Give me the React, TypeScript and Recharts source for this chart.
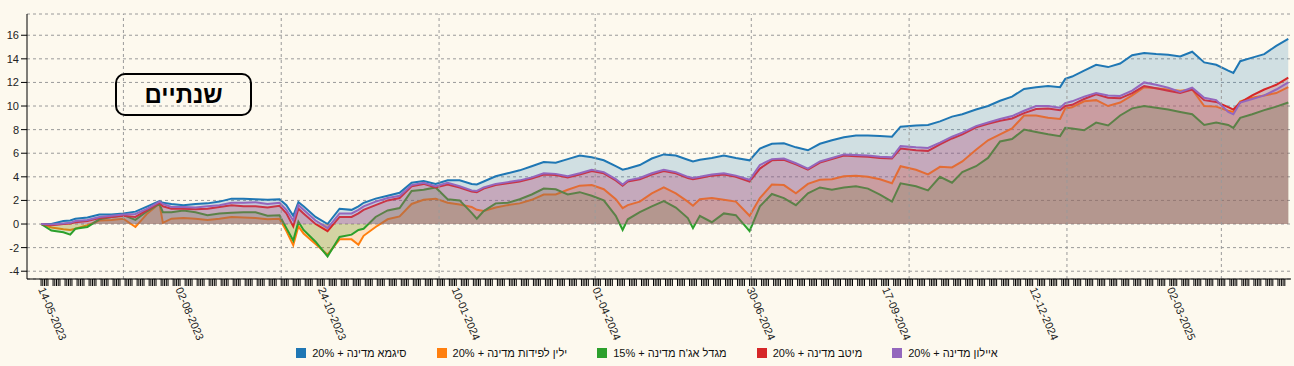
import React from "react";
import { AreaChart, Area, XAxis, YAxis, CartesianGrid, ReferenceLine } from "recharts";

// two-year cumulative returns (%), sampled from 14-05-2023 onward
const START = "14-05-2023";

// days since START for each sample
const dayOffsets = [
  0, 6, 13, 17, 20, 27, 34, 41, 48, 55, 62, 69, 71, 76, 83, 90, 97, 104, 111, 118,
  125, 132, 139, 143, 147, 150, 153, 160, 167, 174, 181, 185, 188, 195, 202, 209, 216, 223, 230, 237,
  244, 251, 254, 258, 265, 272, 279, 286, 293, 300, 307, 314, 321, 328, 335, 339, 342, 349, 356, 363,
  370, 377, 380, 384, 391, 398, 405, 413, 419, 426, 433, 440, 447, 454, 461, 468, 475, 482, 489, 496,
  501, 510, 517, 524, 531, 537, 545, 552, 559, 566, 573, 580, 587, 594, 597, 601, 608, 615, 622, 629,
  636, 643, 650, 657, 664, 671, 678, 685, 692, 695, 699, 706, 713, 720, 727,
];

const sigma = [
  0, 0, 0.25, 0.3, 0.45, 0.55, 0.8, 0.8, 0.9, 1.05, 1.5, 1.95, 1.8, 1.7, 1.6, 1.7, 1.75, 1.9, 2.15, 2.15,
  2.1, 2.05, 2.1, 1.6, 0.7, 1.85, 1.5, 0.6, 0, 1.3, 1.2, 1.5, 1.8, 2.15, 2.4, 2.65, 3.5, 3.65, 3.4, 3.7,
  3.7, 3.4, 3.35, 3.6, 4.05, 4.3, 4.55, 4.9, 5.25, 5.2, 5.5, 5.8, 5.65, 5.4, 4.9, 4.6, 4.7, 5.0, 5.55, 5.9,
  5.8, 5.45, 5.3, 5.45, 5.6, 5.8, 5.6, 5.4, 6.4, 6.8, 6.85, 6.5, 6.25, 6.8, 7.1, 7.35, 7.5, 7.5, 7.45, 7.4,
  8.25, 8.35, 8.4, 8.7, 9.1, 9.3, 9.7, 10.0, 10.45, 10.8, 11.45, 11.6, 11.7, 11.6, 12.3, 12.5, 13.0, 13.5, 13.3, 13.6,
  14.3, 14.5, 14.4, 14.35, 14.2, 14.6, 13.7, 13.5, 13.0, 12.8, 13.8, 14.1, 14.4, 15.1, 15.7,
];

const yelin = [
  0, -0.3, -0.45, -0.5, -0.4, -0.1, 0.3, 0.35, 0.45, -0.25, 0.9, 1.75, 0.1, 0.45, 0.5, 0.45, 0.35, 0.45, 0.6, 0.55,
  0.5, 0.4, 0.45, -0.6, -1.8, -0.2, -0.8, -1.7, -2.6, -1.3, -1.3, -1.75, -1.0, -0.25, 0.4, 0.65, 1.7, 2.05, 2.15, 1.8,
  1.65, 1.45, 1.2, 1.1, 1.4, 1.6, 1.75, 2.05, 2.5, 2.5, 2.9, 3.25, 3.3, 2.95, 2.1, 1.35, 1.6, 1.9, 2.6, 3.1,
  2.6, 1.9, 1.55, 2.1, 2.2, 2.05, 1.9, 0.7, 2.2, 3.35, 3.3, 2.6, 3.4, 3.75, 3.8, 4.05, 4.1, 4.0, 3.8, 3.45,
  4.9, 4.6, 4.2, 4.85, 4.8, 5.3, 6.3, 7.1, 7.6, 8.1, 9.2, 9.2, 9.0, 8.9, 9.8, 9.9, 10.4, 10.5, 10.0, 10.3,
  10.9, 11.6, 11.5, 11.4, 11.3, 11.4, 10.0, 9.95, 9.6, 9.5, 10.4, 10.7, 10.9, 11.1, 11.6,
];

const migdal = [
  0, -0.55, -0.7, -0.9, -0.4, -0.25, 0.4, 0.6, 0.75, 0.35, 1.1, 1.7, 1.0, 1.0, 1.15, 1.0, 0.75, 0.9, 0.95, 1.0,
  1.0, 0.7, 0.75, -0.35, -1.4, 0.2, -0.5, -1.5, -2.75, -1.1, -0.9, -0.5, -0.4, 0.6, 1.15, 1.35, 2.8, 2.9, 3.1, 2.1,
  2.0, 0.95, 0.45, 1.1, 1.75, 1.8, 2.1, 2.5, 3.0, 2.95, 2.5, 2.7, 2.4, 2.0, 0.7, -0.5, 0.4, 1.0, 1.5, 1.95,
  1.4, 0.5, -0.35, 0.7, 0.15, 0.9, 0.75, -0.6, 1.5, 2.55, 2.2, 1.6, 2.6, 3.1, 2.9, 3.1, 3.2, 3.0, 2.5, 1.9,
  3.45, 3.2, 2.85, 4.0, 3.5, 4.4, 4.9, 5.6, 7.0, 7.2, 8.0, 7.8, 7.6, 7.45, 8.15, 8.1, 7.95, 8.6, 8.35, 9.2,
  9.8, 10.0, 9.85, 9.7, 9.5, 9.3, 8.4, 8.6, 8.4, 8.15, 9.0, 9.3, 9.65, 9.95, 10.3,
];

const meitav = [
  0, -0.1, 0, 0.05, 0.15, 0.25, 0.5, 0.6, 0.7, 0.6, 1.2, 1.8, 1.5, 1.3, 1.3, 1.25, 1.3, 1.45, 1.6, 1.5,
  1.5, 1.4, 1.55, 0.9, -0.2, 1.3, 0.9, 0, -0.6, 0.6, 0.6, 0.9, 1.2, 1.6, 2.0, 2.2, 3.2, 3.4, 3.1, 3.35,
  3.1, 2.75, 2.7, 3.0, 3.3, 3.45, 3.6, 3.85, 4.2, 4.15, 3.95, 4.2, 4.5, 4.3, 3.7, 3.25, 3.6, 3.8, 4.2, 4.5,
  4.3, 3.9, 3.8, 3.9, 4.1, 4.2, 4.0, 3.6, 4.7, 5.4, 5.45, 5.05, 4.6, 5.2, 5.5, 5.8, 5.75, 5.7, 5.6, 5.55,
  6.4, 6.25, 6.2, 6.75, 7.25, 7.6, 8.2, 8.5, 8.75, 8.95, 9.4, 9.75, 9.8, 9.65, 10.0, 10.1, 10.6, 11.0, 10.7, 10.65,
  11.1, 11.7, 11.5, 11.3, 11.1, 11.4, 10.5, 10.35, 9.9, 9.7, 10.3, 10.9, 11.4, 11.8, 12.4,
];

const ayalon = [
  0, -0.05, 0.05, 0.1, 0.25, 0.35, 0.6, 0.7, 0.8, 0.85, 1.3, 1.9, 1.7, 1.45, 1.45, 1.4, 1.5, 1.6, 1.8, 1.8,
  1.85, 1.7, 1.8, 1.2, 0.3, 1.6, 1.2, 0.3, -0.35, 0.9, 0.9, 1.2, 1.5, 1.9, 2.2, 2.4, 3.3, 3.5, 3.2, 3.5,
  3.2, 2.85, 2.8, 3.1, 3.4, 3.55, 3.7, 3.95, 4.3, 4.25, 4.05, 4.3, 4.6, 4.4, 3.8, 3.35, 3.7, 3.9, 4.3, 4.6,
  4.4, 4.0, 3.9, 4.0, 4.2, 4.3, 4.1, 3.75, 5.0, 5.5, 5.55, 5.15, 4.7, 5.3, 5.6, 5.9, 5.85, 5.8, 5.7, 5.65,
  6.6, 6.5, 6.45, 6.9, 7.4, 7.75, 8.3, 8.6, 8.9, 9.15, 9.6, 10.0, 10.0, 9.85, 10.25, 10.4, 10.8, 11.1, 10.9, 10.85,
  11.3, 12.0, 11.8, 11.55, 11.2, 11.55, 10.7, 10.5, 9.5, 9.3, 10.3, 10.6, 10.9, 11.4, 12.0,
];

const seriesNames = [
  "סיגמא מדינה + 20%",
  "ילין לפידות מדינה + 20%",
  "מגדל אג'ח מדינה + 15%",
  "מיטב מדינה + 20%",
  "איילון מדינה + 20%",
];

const tickLabels = [
  "14-05-2023", "02-08-2023", "24-10-2023", "10-01-2024", "01-04-2024",
  "30-06-2024", "17-09-2024", "12-12-2024", "02-03-2025",
];

const quarterStarts = [
  "01-07-2023", "01-10-2023", "01-01-2024", "01-04-2024",
  "01-07-2024", "01-10-2024", "01-01-2025", "01-04-2025",
];

const yTicks = [-4, -2, 0, 2, 4, 6, 8, 10, 12, 14, 16];

const title = "שנתיים";

const colors = ["#1f77b4", "#ff7f0e", "#2ca02c", "#d62728", "#9467bd"];
const keys = ["sigma", "yelin", "migdal", "meitav", "ayalon"];

const toUTC = (s: string) => {
  const [d, m, y] = s.split("-").map(Number);
  return Date.UTC(y, m - 1, d);
};
const dayOf = (s: string) => Math.round((toUTC(s) - toUTC(START)) / 86400000);

const data = dayOffsets.map((day, i) => ({
  day,
  sigma: sigma[i],
  yelin: yelin[i],
  migdal: migdal[i],
  meitav: meitav[i],
  ayalon: ayalon[i],
}));

// one tick per trading day (Sun-Thu)
const lastDay = dayOffsets[dayOffsets.length - 1];
const tradingDays: number[] = [];
for (let d = 0; d <= lastDay; d++) if (d % 7 <= 4) tradingDays.push(d);

const labelByDay = new Map(tickLabels.map((t) => [dayOf(t), t]));

function DateTick(props: any) {
  const { x, y, payload } = props;
  const label = labelByDay.get(payload.value);
  if (!label) return <g />;
  return (
    <g transform={`translate(${x},${y})`}>
      <text transform="rotate(67)" x={0} y={0} dy="0.3em" fontSize={11} fill="#222" textAnchor="start">
        {label}
      </text>
    </g>
  );
}

function Legend() {
  return (
    <div
      style={{
        position: "absolute",
        top: 347,
        left: 0,
        width: 1294,
        display: "flex",
        justifyContent: "center",
        gap: 30,
        fontSize: 11,
        color: "#111",
      }}
    >
      {seriesNames.map((name, i) => (
        <div key={name} style={{ display: "flex", alignItems: "center" }}>
          <span style={{ width: 10, height: 10, background: colors[i], marginRight: 6, display: "inline-block" }} />
          <span>{name}</span>
        </div>
      ))}
    </div>
  );
}

export default function App() {
  return (
    <div
      style={{
        position: "absolute",
        left: 0,
        top: 0,
        width: 1294,
        height: 366,
        background: "#fdf9ee",
        fontFamily: "'Liberation Sans', Arial, sans-serif",
      }}
    >
      <AreaChart width={1294} height={366} data={data} margin={{ top: 14, right: 3, bottom: 27, left: 0 }}>
        <CartesianGrid vertical={false} stroke="#9a9a9a" strokeDasharray="3 3" />
        {quarterStarts.map((q) => (
          <ReferenceLine key={q} x={dayOf(q)} stroke="#9a9a9a" strokeDasharray="3 3" />
        ))}
        <XAxis
          dataKey="day"
          type="number"
          domain={[-8.2, 728.6]}
          ticks={tradingDays}
          interval={0}
          tick={<DateTick />}
          tickSize={7}
          height={60}
          axisLine={{ stroke: "#000" }}
          tickLine={{ stroke: "#000" }}
        />
        <YAxis
          type="number"
          domain={[-4.66, 17.8]}
          ticks={yTicks}
          interval={0}
          width={27}
          tickSize={6}
          tick={{ fontSize: 11, fill: "#222" }}
          axisLine={{ stroke: "#000" }}
          tickLine={{ stroke: "#000" }}
        />
        {keys.map((k, i) => (
          <Area
            key={k}
            dataKey={k}
            name={seriesNames[i]}
            type="linear"
            baseValue={0}
            stroke={colors[i]}
            strokeWidth={2}
            fill={colors[i]}
            fillOpacity={0.2}
            dot={false}
            activeDot={false}
            isAnimationActive={false}
          />
        ))}
      </AreaChart>
      <div
        style={{
          position: "absolute",
          left: 115,
          top: 73,
          width: 137,
          height: 43,
          boxSizing: "border-box",
          border: "2.5px solid #000",
          borderRadius: 10,
          display: "flex",
          alignItems: "center",
          justifyContent: "center",
          fontWeight: "bold",
          fontSize: 24,
          color: "#000",
        }}
      >
        {title}
      </div>
      <Legend />
    </div>
  );
}
